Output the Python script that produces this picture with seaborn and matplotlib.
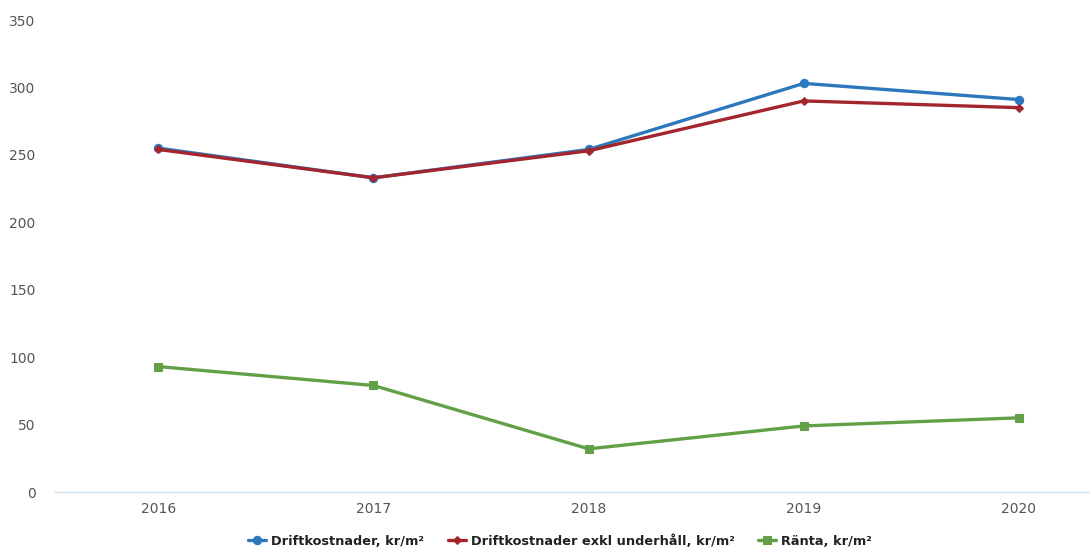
import matplotlib
matplotlib.use("Agg")
import matplotlib.pyplot as plt
import seaborn as sns
import pandas as pd

years = [2016, 2017, 2018, 2019, 2020]
driftkostnader = [255, 233, 254, 303, 291]
drift_exkl_underhall = [254, 233, 253, 290, 285]
ranta = [93, 79, 32, 49, 55]

series_names = ["Driftkostnader, kr/m²", "Driftkostnader exkl underhåll, kr/m²", "Ränta, kr/m²"]
colors = ["#2d78bd", "#a3262e", "#62a047"]
markers = ["o", "D", "s"]
msizes = [6, 4, 6]

sns.set_theme(style="white")
plt.rcParams['font.family'] = ['DejaVu Sans']

fig = plt.figure(figsize=(10.9, 5.49), dpi=100)
ax = fig.add_axes([55/1090, 1-492/549, 1-55/1090, (492-20)/549])

for name, vals, c, m, ms in zip(series_names, [driftkostnader, drift_exkl_underhall, ranta], colors, markers, msizes):
    df = pd.DataFrame({"year": years, "value": vals})
    sns.lineplot(data=df, x="year", y="value", ax=ax, color=c, marker=m, markersize=ms,
                 markeredgecolor=c, linewidth=2.4, label=name)

ax.set_ylim(0, 350)
ax.set_xlim(2015.52, 2020.33)
ax.set_xticks(years)
ax.set_xticklabels([str(y) for y in years])
ax.set_yticks(range(0, 351, 50))
ax.set_xlabel("")
ax.set_ylabel("")
for s in ["top", "right", "left"]:
    ax.spines[s].set_visible(False)
ax.spines["bottom"].set_color("#cfe0ee")
ax.spines["bottom"].set_linewidth(1.0)
ax.tick_params(axis="both", colors="#555555", labelsize=10, length=0, pad=7)
ax.tick_params(axis="y", pad=14)

leg = ax.legend(loc="center", bbox_to_anchor=(560/1090, 1-541/549), bbox_transform=fig.transFigure,
                ncol=3, frameon=False, fontsize=9.3, handlelength=1.4, columnspacing=1.8,
                handletextpad=0.4)
for t in leg.get_texts():
    t.set_color("#222222")
    t.set_fontweight("semibold")

fig.savefig("out.png", dpi=100, facecolor="white")
